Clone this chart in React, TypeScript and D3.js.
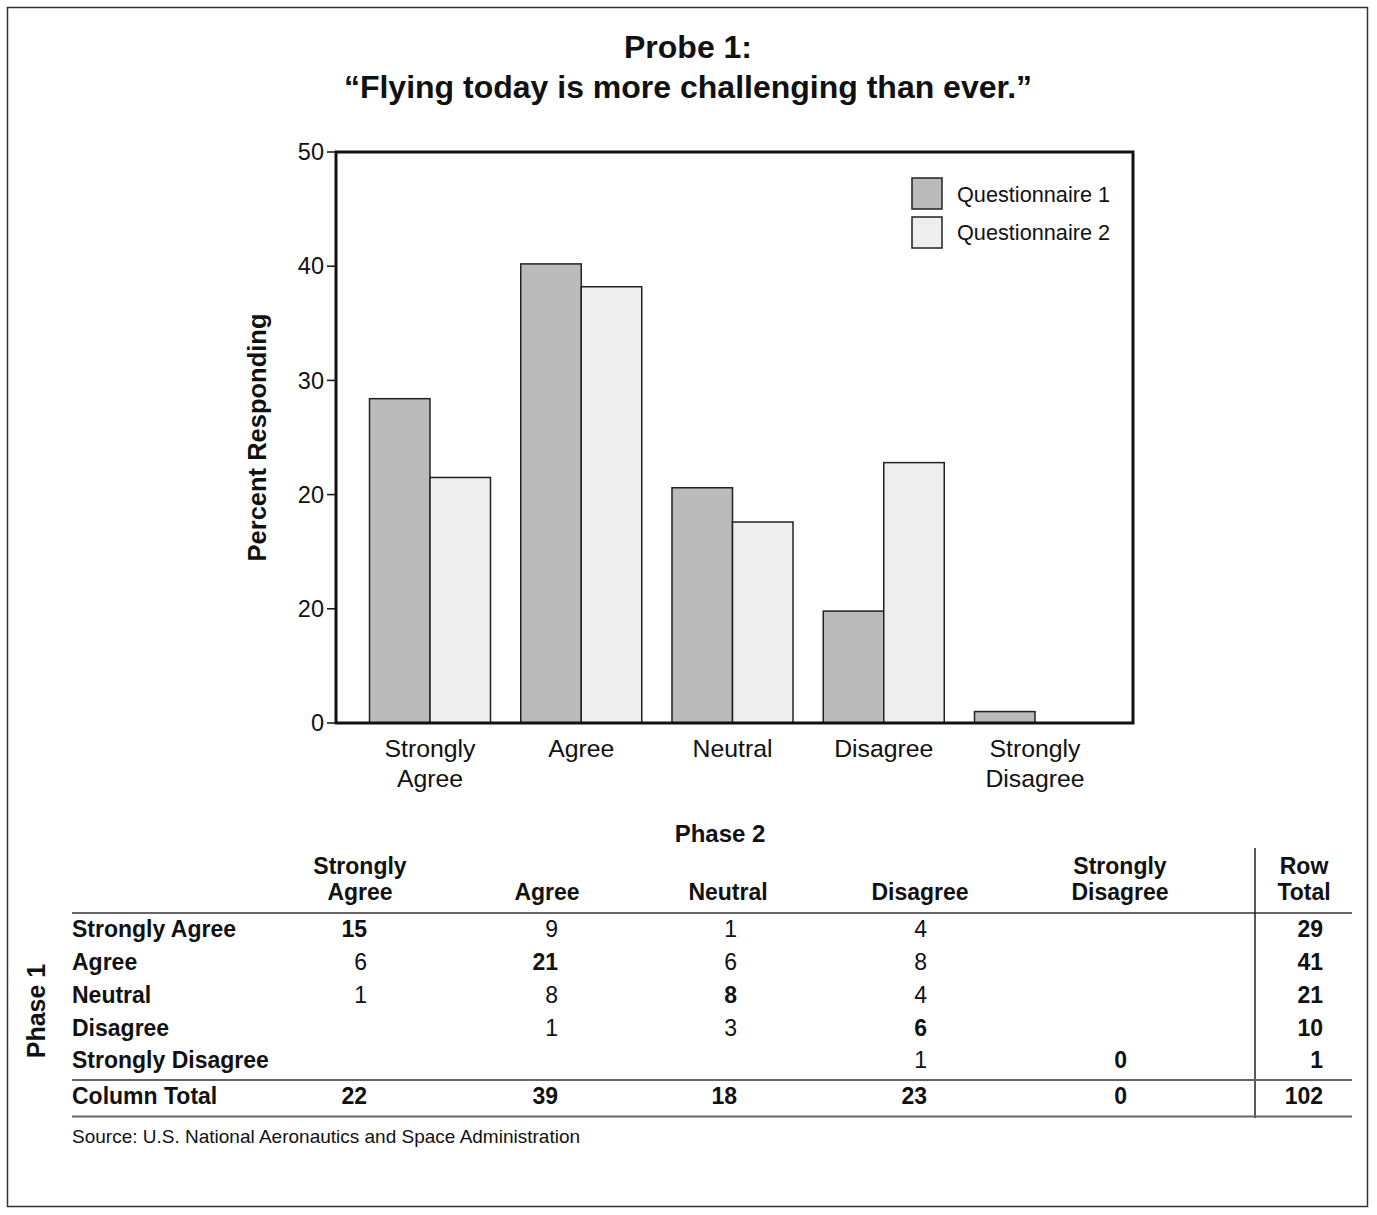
import React from "react";
import * as d3 from "d3";

const categories = ["Strongly Agree", "Agree", "Neutral", "Disagree", "Strongly Disagree"];
const categoryLines = [["Strongly", "Agree"], ["Agree"], ["Neutral"], ["Disagree"], ["Strongly", "Disagree"]];
const questionnaire1 = [28.4, 40.2, 20.6, 9.8, 1.0];
const questionnaire2 = [21.5, 38.2, 17.6, 22.8, 0];
const seriesNames = ["Questionnaire 1", "Questionnaire 2"];
const yTickValues = [0, 10, 20, 30, 40, 50];
const yTickLabels = ["0", "20", "20", "30", "40", "50"];

const tableColumnHeaders = [["Strongly", "Agree"], ["Agree"], ["Neutral"], ["Disagree"], ["Strongly", "Disagree"], ["Row", "Total"]];
const tableRowLabels = ["Strongly Agree", "Agree", "Neutral", "Disagree", "Strongly Disagree"];
const tableCells = [
  ["15", "9", "1", "4", "", "29"],
  ["6", "21", "6", "8", "", "41"],
  ["1", "8", "8", "4", "", "21"],
  ["", "1", "3", "6", "", "10"],
  ["", "", "", "1", "0", "1"],
];
const columnTotalLabel = "Column Total";
const columnTotals = ["22", "39", "18", "23", "0", "102"];
const sourceText = "Source: U.S. National Aeronautics and Space Administration";

const FONT = "'Liberation Sans', Arial, Helvetica, sans-serif";
const colors = ["#bbbbbb", "#eeeeee"];

export default function App() {
  const W = 1377, H = 1215;
  const plot = { left: 336, right: 1133, top: 152, bottom: 723 };
  const y = d3.scaleLinear().domain([0, 50]).range([plot.bottom, plot.top]);
  const x = d3.scalePoint<string>().domain(categories).range([430, 1035]);
  const barW = 60.5;
  const series = [questionnaire1, questionnaire2];

  const colHeaderCenters = [360, 547, 728, 920, 1120, 1304];
  const colValueRight = [367, 558, 737, 927, 1127, 1323];
  const rowBaselines = [937, 970, 1003, 1036, 1068];
  const TF = 23;

  return (
    <svg width={W} height={H} style={{ position: "absolute", left: 0, top: 0, display: "block" }} fontFamily={FONT}>
      <rect x={0} y={0} width={W} height={H} fill="#fff" />
      <rect x={7.5} y={7.5} width={1360} height={1199} fill="none" stroke="#333" strokeWidth={1.5} />

      {/* Title */}
      <text x={688} y={58} textAnchor="middle" fontWeight="bold" fontSize={32} fill="#111">Probe 1:</text>
      <text x={688} y={98} textAnchor="middle" fontWeight="bold" fontSize={32} fill="#111">“Flying today is more challenging than ever.”</text>

      {/* Bars */}
      {series.map((vals, si) =>
        vals.map((v, i) => {
          if (v <= 0) return null;
          const cx = x(categories[i]) as number;
          const bx = si === 0 ? cx - barW : cx;
          return (
            <rect key={`b${si}-${i}`} x={bx} y={y(v)} width={barW} height={y(0) - y(v)}
              fill={colors[si]} stroke="#222" strokeWidth={1.5} />
          );
        })
      )}

      {/* Plot frame */}
      <rect x={plot.left} y={plot.top} width={plot.right - plot.left} height={plot.bottom - plot.top}
        fill="none" stroke="#111" strokeWidth={3} />

      {/* Y ticks */}
      {yTickValues.map((t, i) => (
        <g key={`yt${i}`}>
          <line x1={plot.left - 9} x2={plot.left} y1={y(t)} y2={y(t)} stroke="#111" strokeWidth={1.5} />
          <text x={plot.left - 12} y={y(t)} dy="0.35em" textAnchor="end" fontSize={23.5} fill="#111">{yTickLabels[i]}</text>
        </g>
      ))}

      {/* Y title */}
      <text transform={`translate(266,437.5) rotate(-90)`} textAnchor="middle" fontWeight="bold" fontSize={25.5} fill="#111">Percent Responding</text>

      {/* X labels */}
      {categories.map((c, i) => (
        <text key={`xl${i}`} x={x(c) as number} y={757} textAnchor="middle" fontSize={24.8} fill="#111">
          {categoryLines[i].map((ln, j) => (
            <tspan key={j} x={x(c) as number} dy={j === 0 ? 0 : 30}>{ln}</tspan>
          ))}
        </text>
      ))}

      {/* Legend */}
      {seriesNames.map((n, i) => (
        <g key={`lg${i}`}>
          <rect x={912} y={178 + i * 39} width={30} height={31} fill={colors[i]} stroke="#222" strokeWidth={1.5} />
          <text x={957} y={202 + i * 38} fontSize={21.7} fill="#111">{n}</text>
        </g>
      ))}

      {/* Table */}
      <text x={720} y={842} textAnchor="middle" fontWeight="bold" fontSize={24} fill="#111">Phase 2</text>
      {tableColumnHeaders.map((hdr, ci) => (
        <text key={`th${ci}`} x={colHeaderCenters[ci]} y={hdr.length === 2 ? 874 : 900} textAnchor="middle" fontWeight="bold" fontSize={TF} fill="#111">
          {hdr.map((ln, j) => (
            <tspan key={j} x={colHeaderCenters[ci]} dy={j === 0 ? 0 : 26}>{ln}</tspan>
          ))}
        </text>
      ))}
      <line x1={72} x2={1352} y1={913} y2={913} stroke="#666" strokeWidth={2} />
      <line x1={1255} x2={1255} y1={848} y2={1118} stroke="#222" strokeWidth={1.5} />
      {tableRowLabels.map((r, ri) => (
        <g key={`tr${ri}`}>
          <text x={72} y={rowBaselines[ri]} fontWeight="bold" fontSize={TF} fill="#111">{r}</text>
          {tableCells[ri].map((v, ci) => (
            <text key={ci} x={colValueRight[ci]} y={rowBaselines[ri]} textAnchor="end"
              fontWeight={ci === ri || ci === 5 ? "bold" : "normal"} fontSize={TF} fill="#111">{v}</text>
          ))}
        </g>
      ))}
      <line x1={72} x2={1352} y1={1080} y2={1080} stroke="#666" strokeWidth={2} />
      <text x={72} y={1104} fontWeight="bold" fontSize={TF} fill="#111">{columnTotalLabel}</text>
      {columnTotals.map((v, ci) => (
        <text key={`ct${ci}`} x={colValueRight[ci]} y={1104} textAnchor="end" fontWeight="bold" fontSize={TF} fill="#111">{v}</text>
      ))}
      <line x1={72} x2={1352} y1={1116.5} y2={1116.5} stroke="#666" strokeWidth={2} />
      <text transform={`translate(45,1011) rotate(-90)`} textAnchor="middle" fontWeight="bold" fontSize={25} fill="#111">Phase 1</text>
      <text x={72} y={1143} fontSize={19} fill="#111">{sourceText}</text>
    </svg>
  );
}
